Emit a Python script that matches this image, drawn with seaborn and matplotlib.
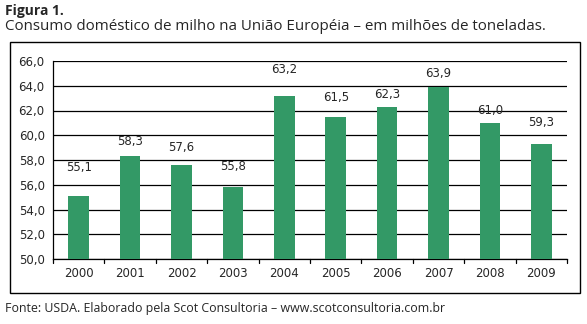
import matplotlib
matplotlib.use("Agg")
import matplotlib.pyplot as plt
import seaborn as sns
import pandas as pd
from matplotlib.patches import Rectangle

years = ["2000", "2001", "2002", "2003", "2004", "2005", "2006", "2007", "2008", "2009"]
consumo = [55.1, 58.3, 57.6, 55.8, 63.2, 61.5, 62.3, 63.9, 61.0, 59.3]
y_ticks = [50, 52, 54, 56, 58, 60, 62, 64, 66]
label_offsets = [16, 6, 8, 10, 14, 9, 4, 5, 4, 11]

title = "Figura 1."
subtitle = "Consumo doméstico de milho na União Européia – em milhões de toneladas."
footer = "Fonte: USDA. Elaborado pela Scot Consultoria – www.scotconsultoria.com.br"

df = pd.DataFrame({"ano": years, "consumo": consumo})

sns.set_style("white")
plt.rcParams["font.family"] = ["DejaVu Sans"]

W, H = 587, 324
fig = plt.figure(figsize=(W / 100, H / 100), dpi=100)

def px(x0, y0, x1, y1):
    return [x0 / W, 1 - y1 / H, (x1 - x0) / W, (y1 - y0) / H]

# chart frame
fig.patches.append(Rectangle((10 / W, 1 - 293 / H), 570 / W, 251 / H, transform=fig.transFigure,
                             fill=False, edgecolor="black", linewidth=1.0))

ax = fig.add_axes(px(53, 61, 567, 259))
sns.barplot(data=df, x="ano", y="consumo", color="#339966", saturation=1, width=0.4, ax=ax,
            zorder=3, linewidth=0)
ax.set_ylim(50, 66)
ax.set_yticks(y_ticks)
ax.set_yticklabels([f"{v:.1f}".replace(".", ",") for v in y_ticks], fontsize=8.5)
ax.set_xticks(range(len(years)))
ax.set_xticklabels(years, fontsize=8.5)
ax.set_xlim(-0.5, len(years) - 0.5)
ax.set_xlabel("")
ax.set_ylabel("")
ax.grid(axis="y", color="black", linewidth=0.9, zorder=0)
ax.set_axisbelow(True)
for s in ["top", "right"]:
    ax.spines[s].set_visible(False)
for s in ["left", "bottom"]:
    ax.spines[s].set_color("black")
    ax.spines[s].set_linewidth(0.9)
ax.tick_params(axis="y", length=4, width=0.9, color="black", direction="out", pad=2)
ax.tick_params(axis="x", length=0, pad=6)
# category boundary ticks on x axis
for b in [i + 0.5 for i in range(-1, len(years))]:
    ax.plot([b, b], [0, -0.02], transform=ax.get_xaxis_transform(), color="black",
            linewidth=0.9, clip_on=False)

for i, (v, off) in enumerate(zip(consumo, label_offsets)):
    ax.annotate(f"{v:.1f}".replace(".", ","), (i, v), xytext=(0, off), textcoords="offset points",
                ha="center", va="bottom", fontsize=8.5)

fig.text(5 / W, 1 - 4 / H, title, fontsize=10, fontweight="bold", family="Open Sans",
         va="top", ha="left")
fig.text(5 / W, 1 - 19.5 / H, subtitle, fontsize=10.9, family="Open Sans", va="top", ha="left")
fig.text(5 / W, 1 - 302 / H, footer, fontsize=8.9, family="Open Sans", va="top", ha="left")

fig.savefig("out.png", dpi=100)
